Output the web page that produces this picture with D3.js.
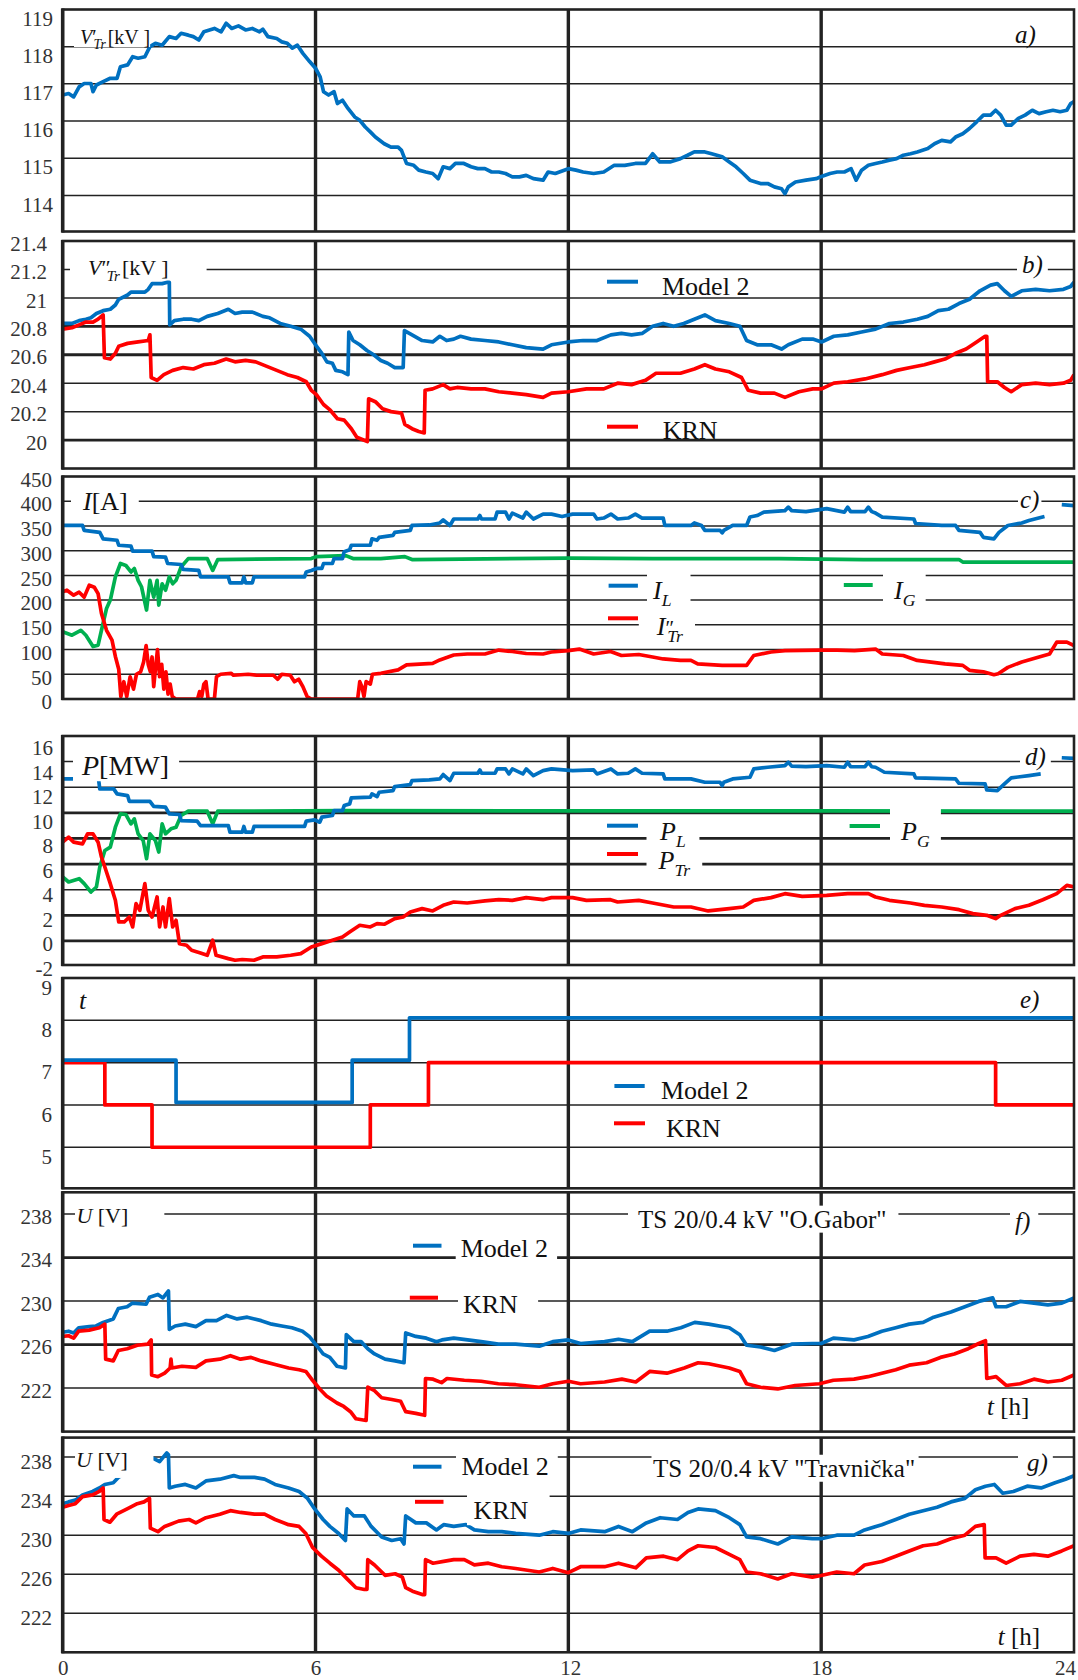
<!DOCTYPE html>
<html><head><meta charset="utf-8">
<script src="https://cdn.jsdelivr.net/npm/d3@7"></script>
<style>
body{margin:0;background:#fff}
svg{display:block}
text{font-family:"Liberation Serif","Times New Roman",serif;white-space:pre}
</style>
</head><body>
<svg id="chart" width="1078" height="1680"></svg>
<script>
// ---------------- DATA (hour, value) ----------------
const hourTicks = [0, 6, 12, 18, 24];
const ticksA = [114, 115, 116, 117, 118, 119];
const ticksB = [20, 20.2, 20.4, 20.6, 20.8, 21, 21.2, 21.4];
const ticksC = [0, 50, 100, 150, 200, 250, 300, 350, 400, 450];
const ticksD = [-2, 0, 2, 4, 6, 8, 10, 12, 14, 16];
const ticksE = [5, 6, 7, 8, 9];
const ticksF = [222, 226, 230, 234, 238];
const ticksG = [222, 226, 230, 234, 238];

// a) V'Tr [kV]
const vTrHV = [[0,116.70],[0.14,116.74],[0.26,116.65],[0.39,116.92],[0.51,117.01],[0.67,117.01],[0.72,116.79],[0.80,116.97],[0.96,117.06],[1.13,117.15],[1.29,117.15],[1.37,117.46],[1.54,117.51],[1.66,117.73],[1.79,117.69],[1.95,117.73],[2.07,118.0],[2.20,118.09],[2.36,118.04],[2.53,118.27],[2.69,118.22],[2.81,118.36],[2.98,118.31],[3.10,118.27],[3.23,118.18],[3.35,118.40],[3.60,118.49],[3.76,118.40],[3.88,118.63],[4.01,118.49],[4.17,118.56],[4.34,118.45],[4.50,118.49],[4.67,118.40],[4.75,118.47],[4.87,118.27],[5.08,118.22],[5.20,118.13],[5.33,118.09],[5.45,117.96],[5.57,118.04],[5.70,117.82],[5.86,117.60],[6.00,117.42],[6.11,117.19],[6.19,116.79],[6.31,116.70],[6.44,116.79],[6.52,116.47],[6.64,116.56],[6.77,116.34],[6.93,116.11],[7.05,116.02],[7.18,115.84],[7.30,115.71],[7.42,115.57],[7.63,115.39],[7.79,115.30],[7.96,115.30],[8.04,115.21],[8.16,114.86],[8.33,114.81],[8.45,114.68],[8.62,114.63],[8.78,114.59],[8.91,114.45],[9.03,114.77],[9.19,114.72],[9.32,114.86],[9.52,114.86],[9.69,114.77],[9.85,114.72],[10.02,114.72],[10.18,114.63],[10.35,114.63],[10.51,114.59],[10.67,114.50],[10.84,114.50],[11.0,114.54],[11.17,114.45],[11.40,114.41],[11.52,114.63],[11.69,114.59],[12.0,114.72],[12.18,114.68],[12.35,114.63],[12.60,114.59],[12.84,114.63],[13.09,114.81],[13.34,114.81],[13.59,114.86],[13.83,114.86],[14.0,115.12],[14.17,114.90],[14.41,114.90],[14.66,114.99],[14.83,115.08],[14.99,115.17],[15.24,115.17],[15.40,115.12],[15.65,115.04],[15.82,114.90],[15.98,114.77],[16.15,114.59],[16.31,114.41],[16.56,114.32],[16.73,114.32],[16.89,114.23],[17.06,114.18],[17.14,114.05],[17.22,114.23],[17.39,114.36],[17.64,114.41],[17.88,114.45],[17.99,114.50],[18.21,114.59],[18.38,114.63],[18.55,114.63],[18.71,114.72],[18.83,114.41],[18.96,114.68],[19.12,114.81],[19.29,114.86],[19.45,114.90],[19.62,114.95],[19.79,114.99],[19.95,115.08],[20.12,115.12],[20.28,115.17],[20.53,115.26],[20.69,115.39],[20.86,115.48],[21.07,115.44],[21.19,115.57],[21.36,115.66],[21.52,115.80],[21.69,115.98],[21.85,116.16],[22.02,116.16],[22.14,116.29],[22.26,116.16],[22.39,115.89],[22.51,115.89],[22.68,116.07],[22.84,116.16],[23.01,116.29],[23.17,116.20],[23.34,116.25],[23.50,116.29],[23.67,116.25],[23.83,116.29],[23.92,116.47],[24.0,116.52]];

// b) V''Tr [kV]
const vMvModel2 = [[0,20.82],[0.22,20.82],[0.39,20.84],[0.55,20.85],[0.67,20.86],[0.80,20.89],[0.96,20.91],[1.13,20.92],[1.25,20.95],[1.33,20.99],[1.54,21.02],[1.62,21.04],[1.95,21.04],[2.03,21.06],[2.12,21.10],[2.36,21.10],[2.49,21.11],[2.53,21.11],[2.54,20.81],[2.65,20.84],[2.86,20.85],[3.06,20.85],[3.23,20.84],[3.43,20.87],[3.68,20.89],[3.93,20.92],[4.09,20.89],[4.26,20.90],[4.50,20.90],[4.75,20.87],[4.91,20.86],[5.16,20.82],[5.41,20.80],[5.65,20.78],[5.86,20.73],[6.0,20.67],[6.15,20.61],[6.27,20.55],[6.40,20.54],[6.48,20.49],[6.64,20.48],[6.77,20.46],[6.79,20.76],[6.89,20.70],[7.05,20.67],[7.22,20.63],[7.38,20.60],[7.55,20.56],[7.71,20.54],[7.88,20.51],[8.08,20.51],[8.11,20.77],[8.29,20.74],[8.53,20.70],[8.78,20.69],[8.95,20.73],[9.11,20.70],[9.28,20.71],[9.44,20.73],[9.69,20.71],[10.02,20.70],[10.35,20.69],[10.67,20.67],[11.0,20.65],[11.40,20.64],[11.60,20.67],[12.0,20.69],[12.35,20.70],[12.68,20.70],[13.01,20.74],[13.26,20.75],[13.50,20.74],[13.75,20.75],[14.0,20.80],[14.25,20.82],[14.50,20.80],[14.74,20.82],[14.99,20.85],[15.24,20.88],[15.49,20.84],[15.82,20.82],[16.07,20.80],[16.23,20.70],[16.48,20.67],[16.81,20.67],[17.06,20.64],[17.22,20.67],[17.55,20.71],[17.80,20.71],[18.01,20.69],[18.30,20.73],[18.63,20.74],[18.96,20.76],[19.29,20.78],[19.62,20.82],[19.95,20.83],[20.28,20.85],[20.53,20.87],[20.78,20.91],[21.02,20.92],[21.27,20.96],[21.52,20.99],[21.77,21.05],[22.02,21.09],[22.18,21.10],[22.35,21.05],[22.51,21.01],[22.76,21.05],[23.09,21.06],[23.42,21.05],[23.75,21.06],[23.92,21.08],[24,21.11]];
const vMvKRN = [[0,20.78],[0.22,20.79],[0.39,20.81],[0.55,20.83],[0.72,20.83],[0.84,20.85],[0.96,20.88],[0.99,20.58],[1.13,20.57],[1.25,20.61],[1.33,20.66],[1.54,20.68],[1.79,20.69],[2.03,20.70],[2.07,20.74],[2.10,20.44],[2.24,20.42],[2.40,20.46],[2.61,20.49],[2.86,20.51],[3.10,20.50],[3.35,20.53],[3.60,20.54],[3.88,20.57],[4.09,20.55],[4.34,20.56],[4.58,20.55],[4.83,20.52],[5.08,20.49],[5.33,20.46],[5.57,20.44],[5.78,20.41],[5.90,20.35],[6.02,20.32],[6.19,20.25],[6.35,20.21],[6.52,20.15],[6.68,20.14],[6.85,20.08],[6.98,20.02],[7.14,20.0],[7.23,19.99],[7.26,20.29],[7.42,20.27],[7.59,20.22],[7.79,20.20],[8.04,20.19],[8.12,20.11],[8.29,20.08],[8.45,20.06],[8.58,20.05],[8.60,20.35],[8.78,20.36],[9.03,20.39],[9.19,20.36],[9.36,20.37],[9.69,20.36],[10.02,20.36],[10.35,20.34],[10.67,20.33],[11.0,20.32],[11.40,20.30],[11.60,20.33],[12.0,20.34],[12.43,20.36],[12.84,20.36],[13.17,20.40],[13.50,20.39],[13.83,20.42],[14.08,20.47],[14.33,20.47],[14.66,20.47],[14.99,20.50],[15.24,20.53],[15.49,20.50],[15.82,20.48],[16.11,20.44],[16.27,20.35],[16.56,20.33],[16.89,20.33],[17.14,20.30],[17.47,20.34],[17.80,20.36],[18.01,20.36],[18.30,20.40],[18.63,20.41],[19.04,20.43],[19.45,20.46],[19.79,20.49],[20.12,20.51],[20.45,20.53],[20.69,20.55],[20.94,20.57],[21.19,20.61],[21.44,20.64],[21.69,20.69],[21.89,20.73],[21.93,20.73],[21.95,20.41],[22.18,20.41],[22.35,20.37],[22.51,20.34],[22.76,20.39],[23.09,20.40],[23.42,20.39],[23.75,20.40],[23.92,20.42],[24,20.46]];

// c) I [A]
const iLoad = [[0,351],[0.47,351],[0.51,341],[0.88,337],[0.96,324],[1.29,321],[1.33,311],[1.62,309],[1.66,299],[2.12,299],[2.16,288],[2.44,287],[2.49,274],[2.81,272],[2.86,262],[3.23,260],[3.27,247],[3.93,247],[3.97,235],[4.26,235],[4.30,247],[4.34,235],[4.50,235],[4.54,247],[5.74,247],[5.78,257],[5.90,260],[6.02,264],[6.15,264],[6.19,274],[6.40,274],[6.44,284],[6.64,284],[6.68,298],[6.81,302],[6.85,311],[7.30,311],[7.34,324],[7.46,321],[7.51,327],[7.84,331],[7.88,337],[8.25,341],[8.29,351],[8.70,352],[8.95,356],[9.03,362],[9.19,351],[9.28,364],[9.85,364],[9.90,371],[9.94,364],[10.26,364],[10.31,378],[10.51,378],[10.59,364],[10.67,376],[10.92,366],[11.0,378],[11.17,364],[11.40,374],[11.60,374],[11.85,369],[12.1,374],[12.6,374],[12.68,364],[12.84,366],[13.01,374],[13.17,364],[13.42,366],[13.59,374],[13.75,366],[14.25,366],[14.29,351],[14.91,351],[14.99,356],[15.16,351],[15.24,341],[15.6,341],[15.65,336],[15.69,341],[15.9,351],[16.23,351],[16.31,368],[16.48,371],[16.64,378],[17.14,381],[17.22,388],[17.30,381],[17.64,379],[17.80,381],[18.13,385],[18.55,378],[18.63,388],[18.7,379],[19.04,379],[19.12,388],[19.2,379],[19.29,376],[19.45,368],[20.2,364],[20.24,355],[20.86,351],[21.19,351],[21.27,341],[21.77,337],[21.85,327],[22.1,324],[22.22,337],[22.43,351],[22.76,356],[22.93,361],[23.3,369],[23.5,null],[23.71,393],[24,391]];
const iTrafo = [[0,217],[0.1,220],[0.26,210],[0.39,216],[0.51,206],[0.63,230],[0.75,226],[0.84,213],[0.92,173],[1.04,139],[1.17,119],[1.25,86],[1.33,60],[1.38,5],[1.45,35],[1.52,5],[1.60,45],[1.68,20],[1.75,50],[1.85,55],[1.92,75],[1.98,108],[2.03,70],[2.08,55],[2.12,85],[2.16,25],[2.20,60],[2.25,100],[2.30,45],[2.35,70],[2.40,20],[2.45,55],[2.50,10],[2.55,30],[2.60,5],[2.68,0],[3.20,0],[3.25,15],[3.30,5],[3.35,30],[3.40,35],[3.45,0],[3.60,0],[3.65,45],[3.75,50],[4.0,52],[4.05,48],[4.40,50],[4.60,48],[5.0,48],[5.1,40],[5.2,50],[5.4,48],[5.5,35],[5.6,40],[5.7,25],[5.8,5],[5.9,0],[7.0,0],[7.05,35],[7.1,25],[7.15,5],[7.2,35],[7.3,30],[7.35,50],[7.55,52],[7.96,59],[8.16,69],[8.78,72],[8.95,79],[9.28,89],[9.6,91],[10.02,91],[10.35,99],[10.67,96],[11.0,92],[11.4,91],[11.6,95],[12.0,98],[12.26,101],[12.6,91],[13.0,96],[13.26,88],[13.67,90],[14.0,85],[14.25,81],[14.66,78],[14.91,78],[15.07,71],[15.65,68],[16.23,68],[16.4,88],[16.81,95],[17.14,98],[17.97,99],[18.38,99],[18.79,98],[19.29,101],[19.45,91],[19.95,88],[20.28,78],[20.94,71],[21.36,68],[21.52,58],[21.85,55],[22.1,49],[22.2,51],[22.43,64],[22.76,75],[23.17,85],[23.42,91],[23.59,115],[23.83,115],[24,108]];
const iGen = [[0,136],[0.22,129],[0.43,139],[0.55,129],[0.72,106],[0.84,109],[0.92,139],[1.04,183],[1.13,200],[1.25,247],[1.37,274],[1.50,270],[1.62,257],[1.70,264],[1.79,240],[1.87,227],[1.99,180],[2.07,240],[2.16,206],[2.24,240],[2.28,190],[2.36,233],[2.44,220],[2.53,247],[2.61,233],[2.69,240],[2.81,267],[2.98,284],[3.43,284],[3.56,260],[3.68,282],[5.90,284],[6.02,288],[6.72,290],[6.89,284],[7.55,284],[8.12,288],[8.29,282],[12,285],[14,284],[17,284],[19,282],[21.27,282],[21.36,277],[24,277]];

// d) P [MW]
const pLoad = [[0,12.65],[0.85,12.65],[0.88,11.87],[1.21,11.87],[1.29,11.48],[1.54,11.35],[1.58,10.9],[2.07,10.9],[2.16,10.5],[2.44,10.44],[2.53,9.92],[2.77,9.87],[2.81,9.4],[3.19,9.35],[3.27,9.01],[3.93,9.01],[3.97,8.49],[4.26,8.49],[4.30,8.94],[4.34,8.49],[4.50,8.49],[4.54,8.94],[5.74,8.94],[5.78,9.35],[5.98,9.45],[6.1,9.27],[6.15,9.66],[6.40,9.79],[6.44,10.18],[6.64,10.18],[6.68,10.57],[6.81,10.70],[6.85,11.17],[7.30,11.22],[7.34,11.48],[7.46,11.27],[7.51,11.61],[7.84,11.74],[7.88,12.05],[8.25,12.21],[8.29,12.52],[8.70,12.57],[8.95,12.65],[9.03,12.99],[9.19,12.52],[9.28,13.09],[9.85,13.09],[9.9,13.35],[9.94,13.09],[10.26,13.09],[10.31,13.43],[10.51,13.43],[10.59,13.04],[10.67,13.43],[10.92,13.04],[11.0,13.43],[11.17,12.91],[11.40,13.30],[11.6,13.43],[12.1,13.3],[12.6,13.35],[12.68,13.04],[13.01,13.43],[13.17,13.04],[13.42,13.09],[13.59,13.43],[13.75,13.09],[14.25,13.04],[14.29,12.65],[14.91,12.65],[15.24,12.39],[15.6,12.39],[15.65,12.13],[15.69,12.39],[15.9,12.65],[16.31,12.78],[16.4,13.43],[16.73,13.56],[17.14,13.69],[17.22,13.95],[17.3,13.65],[17.64,13.61],[18.13,13.69],[18.55,13.56],[18.63,13.95],[18.7,13.6],[19.04,13.61],[19.12,13.95],[19.2,13.6],[19.29,13.56],[19.5,13.17],[20.2,13.04],[20.24,12.73],[21.19,12.65],[21.27,12.31],[21.89,12.26],[21.93,11.79],[22.18,11.74],[22.35,12.26],[22.51,12.73],[22.93,12.91],[23.21,13.04],[23.5,null],[23.71,14.3],[24,14.25]];
const pTrafo = [[0,7.71],[0.14,8.10],[0.26,7.71],[0.47,7.58],[0.59,8.36],[0.72,8.36],[0.84,7.71],[0.92,6.55],[1.0,5.77],[1.13,4.47],[1.25,3.17],[1.33,1.48],[1.46,1.48],[1.58,1.87],[1.66,1.09],[1.74,2.91],[1.83,2.39],[1.95,4.47],[2.03,2.39],[2.12,1.87],[2.24,3.43],[2.30,1.09],[2.38,2.65],[2.44,1.09],[2.53,3.30],[2.61,1.09],[2.69,1.61],[2.77,-0.21],[2.94,-0.34],[3.06,-0.73],[3.27,-0.94],[3.43,-1.12],[3.56,0.05],[3.64,-1.12],[3.93,-1.38],[4.09,-1.51],[4.26,-1.45],[4.54,-1.51],[4.75,-1.25],[5.08,-1.25],[5.41,-1.12],[5.65,-0.99],[5.9,-0.47],[6.15,-0.21],[6.40,0.05],[6.64,0.31],[6.81,0.70],[7.05,1.22],[7.30,1.09],[7.46,1.35],[7.63,1.30],[7.88,1.74],[8.08,1.87],[8.25,2.26],[8.53,2.52],[8.78,2.34],[9.03,2.78],[9.28,3.04],[9.60,2.96],[10.02,3.12],[10.35,3.22],[10.67,3.17],[11.0,3.38],[11.40,3.22],[11.6,3.38],[12.1,3.38],[12.43,3.17],[13.0,3.22],[13.17,3.04],[13.67,3.17],[14.0,2.96],[14.5,2.65],[14.91,2.65],[15.32,2.34],[15.82,2.52],[16.15,2.65],[16.4,3.17],[16.81,3.38],[17.14,3.69],[17.55,3.48],[18.13,3.56],[18.63,3.69],[19.12,3.69],[19.29,3.43],[19.62,3.17],[20.12,2.96],[20.45,2.78],[20.86,2.65],[21.27,2.44],[21.6,2.13],[21.93,2.0],[22.14,1.74],[22.26,2.0],[22.6,2.52],[22.93,2.78],[23.26,3.22],[23.59,3.69],[23.83,4.34],[24,4.21]];
const pGen = [[0,4.99],[0.14,4.6],[0.39,4.86],[0.51,4.47],[0.67,3.82],[0.80,4.21],[0.88,5.77],[1.0,7.06],[1.13,7.32],[1.25,8.88],[1.37,9.92],[1.5,9.87],[1.62,9.14],[1.70,9.53],[1.79,8.36],[1.91,7.84],[1.99,6.42],[2.07,8.36],[2.20,7.84],[2.28,6.94],[2.36,9.14],[2.44,8.36],[2.57,8.75],[2.69,8.88],[2.81,9.79],[2.98,10.13],[3.43,10.13],[3.56,9.14],[3.68,10.13],[6.72,10.18],[12,10.15],[18,10.15],[24,10.13]];

// e) tap position t
const tapModel2 = [[0,7],[2.69,6],[6.87,7],[8.23,8],[24,8]];
const tapKRN = [[0,7],[1.0,6],[2.12,5],[7.3,6],[8.68,7],[22.14,6],[24,6]];

// f) U [V] TS "O.Gabor"
const uGaborModel2 = [[0,227.13],[0.14,227.23],[0.26,227.07],[0.38,227.55],[0.63,227.65],[0.79,227.71],[0.96,228.04],[1.2,228.36],[1.32,229.32],[1.53,229.48],[1.65,229.81],[1.98,229.71],[2.06,230.35],[2.26,230.61],[2.38,230.29],[2.51,230.93],[2.53,227.39],[2.67,227.71],[2.91,227.88],[3.16,227.65],[3.40,228.2],[3.65,228.2],[3.89,228.68],[4.14,228.36],[4.38,228.52],[4.71,228.2],[4.96,227.88],[5.2,227.71],[5.44,227.55],[5.69,227.23],[5.85,226.75],[6.02,225.94],[6.18,225.14],[6.34,224.82],[6.51,224.01],[6.71,223.85],[6.73,226.91],[6.91,226.27],[7.08,226.27],[7.24,225.62],[7.40,225.14],[7.65,224.66],[7.89,224.5],[8.1,224.33],[8.14,227.07],[8.38,226.75],[8.63,226.59],[8.87,226.27],[9.0,226.43],[9.28,226.59],[9.61,226.43],[9.93,226.27],[10.34,226.04],[10.75,226.04],[11.31,225.85],[11.63,226.27],[12.0,226.43],[12.29,226.1],[12.86,226.27],[13.19,226.49],[13.52,226.27],[13.93,227.23],[14.34,227.23],[14.67,227.55],[15.0,228.04],[15.33,227.88],[15.82,227.55],[16.07,226.91],[16.23,225.94],[16.56,225.78],[16.89,225.46],[17.3,226.04],[17.79,226.1],[18.0,226.1],[18.29,226.59],[18.78,226.43],[19.11,226.75],[19.44,227.23],[19.77,227.55],[20.09,227.88],[20.42,228.04],[20.67,228.52],[21.08,229.0],[21.41,229.48],[21.74,229.97],[22.07,230.29],[22.15,229.48],[22.39,229.48],[22.72,229.97],[23.05,229.81],[23.38,229.65],[23.71,229.81],[24.0,230.29]];
const uGaborKRN = [[0,226.75],[0.14,226.81],[0.26,226.59],[0.38,227.23],[0.63,227.33],[0.87,227.55],[1.0,227.88],[1.02,224.66],[1.2,224.5],[1.32,225.46],[1.53,225.62],[1.77,225.94],[2.02,226.04],[2.1,226.43],[2.11,223.21],[2.26,223.05],[2.42,223.37],[2.55,223.85],[2.57,224.66],[2.59,223.85],[2.83,224.01],[3.16,223.91],[3.40,224.5],[3.73,224.66],[3.98,224.98],[4.22,224.66],[4.47,224.82],[4.71,224.5],[5.04,224.17],[5.36,223.85],[5.61,223.69],[5.77,223.53],[5.93,222.72],[6.1,221.92],[6.26,221.27],[6.51,220.63],[6.67,220.31],[6.83,219.83],[6.96,219.18],[7.2,219.02],[7.24,222.08],[7.40,221.76],[7.57,221.11],[7.81,220.95],[8.02,220.79],[8.14,219.83],[8.38,219.67],[8.59,219.5],[8.61,222.88],[8.79,222.82],[8.99,222.5],[9.12,222.88],[9.53,222.72],[9.93,222.63],[10.34,222.4],[10.75,222.31],[11.31,222.08],[11.63,222.4],[12.0,222.63],[12.29,222.4],[12.86,222.56],[13.27,222.82],[13.6,222.56],[13.93,223.53],[14.34,223.37],[14.75,223.85],[15.08,224.33],[15.33,224.24],[15.82,223.85],[16.07,223.53],[16.23,222.4],[16.56,222.08],[16.97,221.92],[17.38,222.24],[17.96,222.4],[18.29,222.72],[18.78,222.82],[19.11,223.05],[19.44,223.37],[19.77,223.69],[20.09,224.11],[20.5,224.33],[20.83,224.82],[21.16,225.14],[21.49,225.62],[21.74,226.1],[21.9,226.36],[21.93,222.88],[22.15,223.05],[22.39,222.24],[22.72,222.4],[23.05,222.82],[23.38,222.56],[23.71,222.72],[24.0,223.21]];

// g) U [V] TS "Travnička"
const uTravModel2 = [[0,233.23],[0.14,233.41],[0.3,233.59],[0.47,234.13],[0.71,234.48],[0.87,234.84],[1.0,235.2],[1.2,235.38],[1.32,235.92],[2.14,237.89],[2.3,237.53],[2.47,238.43],[2.51,238.25],[2.53,234.84],[2.67,235.02],[2.91,235.2],[3.16,234.84],[3.40,235.56],[3.73,235.74],[4.06,236.1],[4.22,235.92],[4.55,235.92],[4.79,235.74],[5.04,235.2],[5.36,234.84],[5.61,234.48],[5.81,233.77],[5.98,232.69],[6.18,231.61],[6.34,230.9],[6.55,230.18],[6.71,229.46],[6.75,232.69],[6.91,231.97],[7.16,231.97],[7.32,230.9],[7.57,229.82],[7.81,229.46],[8.02,229.64],[8.1,229.1],[8.14,231.97],[8.38,231.26],[8.63,231.26],[8.87,230.54],[9.04,231.08],[9.28,230.9],[9.57,231.08],[9.77,230.54],[10.1,230.36],[10.42,230.36],[10.75,230.18],[11.31,230.0],[11.63,230.36],[12.0,230.18],[12.29,230.54],[12.86,230.36],[13.19,230.9],[13.52,230.36],[13.85,231.26],[14.18,231.79],[14.59,231.61],[14.84,232.33],[15.08,232.69],[15.49,232.51],[15.82,231.79],[16.07,231.08],[16.23,229.82],[16.56,229.64],[16.97,229.1],[17.3,229.82],[17.79,229.64],[18.0,229.64],[18.37,230.0],[18.78,230.0],[19.03,230.54],[19.44,231.08],[19.77,231.61],[20.09,232.15],[20.42,232.51],[20.75,232.87],[21.08,233.41],[21.41,233.77],[21.66,234.66],[21.9,235.02],[22.11,235.2],[22.31,234.3],[22.56,234.48],[22.89,235.02],[23.22,234.84],[23.55,235.38],[23.8,235.74],[24.0,236.1]];
const uTravKRN = [[0,232.87],[0.14,233.05],[0.3,233.23],[0.47,233.95],[0.71,234.13],[0.87,234.48],[0.96,234.84],[0.98,231.61],[1.12,231.33],[1.28,232.15],[1.53,232.69],[1.77,233.23],[1.93,233.41],[2.06,233.77],[2.08,230.72],[2.26,230.36],[2.42,230.9],[2.75,231.44],[3.0,231.61],[3.16,231.26],[3.40,231.79],[3.73,232.15],[3.98,232.51],[4.22,232.33],[4.55,232.15],[4.79,232.15],[5.04,231.61],[5.36,231.08],[5.61,230.9],[5.77,230.18],[5.93,228.74],[6.14,227.85],[6.34,227.13],[6.55,226.41],[6.75,225.52],[6.96,224.62],[7.16,224.44],[7.22,224.44],[7.24,227.49],[7.40,226.95],[7.65,225.89],[7.89,226.05],[8.06,225.7],[8.14,224.62],[8.3,224.26],[8.55,223.9],[8.59,223.9],[8.61,227.49],[8.79,227.13],[9.04,227.31],[9.28,227.49],[9.53,227.49],[9.77,226.95],[10.1,227.13],[10.42,226.77],[10.75,226.59],[11.31,226.23],[11.63,226.59],[12.0,226.16],[12.29,226.77],[12.86,226.77],[13.19,227.13],[13.6,226.66],[13.85,227.67],[14.26,227.85],[14.59,227.49],[14.84,228.39],[15.08,228.92],[15.49,228.74],[15.82,228.03],[16.07,227.49],[16.23,226.23],[16.56,226.05],[16.97,225.52],[17.3,226.05],[17.79,225.7],[18.0,225.87],[18.37,226.23],[18.78,226.05],[19.03,226.95],[19.44,227.31],[19.77,227.85],[20.09,228.39],[20.42,228.92],[20.75,229.1],[21.08,229.64],[21.41,230.0],[21.66,230.9],[21.87,231.08],[21.89,227.67],[22.15,227.67],[22.39,227.13],[22.72,227.85],[23.05,228.03],[23.38,227.85],[23.71,228.39],[24.0,228.92]];

// ---------------- LAYOUT / STYLE ----------------
const BLUE = '#0070c0', RED = '#ff0000', GREEN = '#00b050', INK = '#222';
const svg = d3.select('#chart');
const x = d3.scaleLinear().domain([0, 24]).range([62.7, 1074]);

const it = (t, o) => Object.assign({t, i: 1}, o || {});
const panels = [
  {top: 9.5, bottom: 231.5, domain: [113.03, 119], ticks: ticksA, lab: [9, 9], labRight: 53, thick: [],
   series: [[vTrHV, BLUE]],
   labels: [
     {x: 80, y: 37, s: 20, parts: [it('V'), {t: '′'}, it('Tr', {sub: 1, dx: -3}), {t: '[kV ]', dx: 2}], pad: [6, 0, 0, -5]},
     {x: 1015, y: 35, s: 25, parts: [it('a)')]}
   ], legend: []},
  {top: 241, bottom: 468.5, domain: [19.8, 21.4], ticks: ticksB, lab: [2.5, 2.5], labRight: 47, thick: [20.8, 20.6, 20],
   series: [[vMvModel2, BLUE], [vMvKRN, RED]],
   labels: [
     {x: 88, y: 268, s: 22, parts: [it('V'), {t: '″'}, it('Tr', {sub: 1, dx: -4}), {t: '[kV ]', dx: 2}], pad: [18, 38, 0, -10]},
     {x: 1022, y: 265, s: 25, parts: [it('b)')], pad: [5, 5, 0, 0]},
     {x: 662, y: 286.7, s: 26, parts: [{t: 'Model 2'}]},
     {x: 662.7, y: 430, s: 26, parts: [{t: 'KRN'}]}
   ], legend: [[607, 638, 281.7, BLUE], [607, 638, 426.7, RED]]},
  {top: 476.5, bottom: 699, domain: [0, 450], ticks: ticksC, lab: [3, 3], labRight: 52, thick: [],
   series: [[iGen, GREEN], [iLoad, BLUE], [iTrafo, RED]],
   labels: [
     {x: 83, y: 501.7, s: 26, parts: [it('I'), {t: '[A]'}], pad: [11, 11, 0, 0]},
     {x: 1020, y: 500, s: 25, parts: [it('c)')], pad: [2, 2, 0, 0]},
     {x: 653, y: 590, s: 26, parts: [it('I'), it('L', {sub: 1})], pad: [5, 19, 3, 0]},
     {x: 656.8, y: 626, s: 26, parts: [it('I'), {t: '″', sup: 1}, it('Tr', {sub: 1, dx: -7})], pad: [17, 12, -3, 0]},
     {x: 894, y: 590, s: 26, parts: [it('I'), it('G', {sub: 1})], pad: [10, 10, 3, 0]}
   ], legend: [[608.6, 637.9, 585.7, BLUE], [608, 638, 618.3, RED], [843.8, 872.7, 585, GREEN]]},
  {top: 736, bottom: 965, domain: [-1.88, 16], ticks: ticksD, lab: [2, 12], labRight: 53, thick: [10, 8, 6, 2, 0],
   series: [[pGen, GREEN], [pLoad, BLUE], [pTrafo, RED]],
   labels: [
     {x: 82, y: 766, s: 28, parts: [it('P'), {t: '[MW]'}], pad: [8, 10, 0, 0]},
     {x: 1025, y: 756.7, s: 25, parts: [it('d)')], pad: [5, 5, 0, 0]},
     {x: 660, y: 831.7, s: 26, parts: [it('P'), it('L', {sub: 1})], pad: [12.5, 13.7, 0, 0]},
     {x: 658.5, y: 860, s: 26, parts: [it('P'), it('Tr', {sub: 1})], pad: [11, 12, 0, 0]},
     {x: 901, y: 831.7, s: 26, parts: [it('P'), it('G', {sub: 1})], pad: [10, 11, 9, 0]}
   ], legend: [[607, 638, 825.7, BLUE], [607, 638, 854, RED], [849.6, 880, 826, GREEN]]},
  {top: 978, bottom: 1188.3, domain: [4.03, 9], ticks: ticksE, lab: [9, 10], labRight: 52, thick: [],
   series: [[tapKRN, RED, 'step'], [tapModel2, BLUE, 'step', -2.5]],
   labels: [
     {x: 79, y: 1000, s: 26, parts: [it('t')]},
     {x: 1020, y: 1000, s: 25, parts: [it('e)')]},
     {x: 661, y: 1090, s: 26, parts: [{t: 'Model 2'}]},
     {x: 666, y: 1128, s: 26, parts: [{t: 'KRN'}]}
   ], legend: [[614.4, 644.7, 1086, BLUE], [614, 645, 1123.3, RED]]},
  {top: 1192.3, bottom: 1431.6, domain: [218, 240], ticks: ticksF, lab: [2.5, 2.5], labRight: 52, thick: [234, 226],
   series: [[uGaborModel2, BLUE], [uGaborKRN, RED]],
   labels: [
     {x: 76.4, y: 1216, s: 22, parts: [it('U'), {t: ' [V]'}], pad: [1.4, 36, 0, 0]},
     {x: 638, y: 1219.4, s: 25, parts: [{t: 'TS 20/0.4 kV "O.Gabor"'}], pad: [10, 12, 0, 0]},
     {x: 1015, y: 1222, s: 25, parts: [it('f)')], pad: [5, 8, 0, 0]},
     {x: 987, y: 1407, s: 25, parts: [it('t'), {t: ' [h]'}]},
     {x: 460.7, y: 1248.6, s: 26, parts: [{t: 'Model 2'}], pad: [5, 9, 0, 0]},
     {x: 463, y: 1304.3, s: 26, parts: [{t: 'KRN'}], pad: [5, 20, 0, 0]}
   ], legend: [[413, 441.5, 1245.7, BLUE], [409.8, 438, 1297.7, RED]]},
  {top: 1437.6, bottom: 1652.3, domain: [218, 240], ticks: ticksG, lab: [5, 5], labRight: 52, thick: [],
   series: [[uTravModel2, BLUE], [uTravKRN, RED]],
   labels: [
     {x: 76, y: 1459.7, s: 22, parts: [it('U'), {t: ' [V]'}], pad: [1, 25.5, 0, 6]},
     {x: 653, y: 1468.5, s: 25, parts: [{t: 'TS 20/0.4 kV "Travnička"'}], pad: [1.5, 3.5, 0, 0]},
     {x: 1027, y: 1463, s: 25, parts: [it('g)')], pad: [9, 5, 0, 0]},
     {x: 997.7, y: 1636.8, s: 25, parts: [it('t'), {t: ' [h]'}]},
     {x: 461.4, y: 1466, s: 26, parts: [{t: 'Model 2'}], pad: [5.4, 9, 0, 0]},
     {x: 473.5, y: 1510.6, s: 26, parts: [{t: 'KRN'}], pad: [6.5, 21, 2, 0]}
   ], legend: [[413, 441.5, 1466.7, BLUE], [415, 443.5, 1501.8, RED]]}
];

function addLabel(layer, boxLayer, L) {
  const s = L.s;
  const t = layer.append('text').attr('x', L.x).attr('y', L.y + 0.33 * s)
    .attr('font-size', s).attr('fill', '#111');
  let cur = 0;
  L.parts.forEach(p => {
    const sp = t.append('tspan').text(p.t);
    if (p.i) sp.attr('font-style', 'italic');
    let fs = s, target = 0;
    if (p.sub) { fs = s * 0.68; target = s * 0.27; }
    if (p.sup) { fs = s * 0.8; target = 0; }
    sp.attr('font-size', fs).attr('dy', target - cur);
    cur = target;
    if (p.dx) sp.attr('dx', p.dx);
  });
  if (L.pad) {
    const b = t.node().getBBox();
    const [pl, pr, pt, pb] = L.pad;
    boxLayer.append('rect').attr('x', b.x - pl).attr('y', b.y - pt)
      .attr('width', b.width + pl + pr).attr('height', b.height + pt + pb).attr('fill', '#fff');
  }
}

panels.forEach((P, idx) => {
  const y = d3.scaleLinear().domain(P.domain).range([P.bottom, P.top]);
  const g = svg.append('g');
  const clipId = 'clip' + idx;
  g.append('clipPath').attr('id', clipId).append('rect')
    .attr('x', x(0)).attr('y', P.top).attr('width', x(24) - x(0)).attr('height', P.bottom - P.top);

  // horizontal gridlines
  g.append('g').selectAll('line')
    .data(P.ticks.filter(v => y(v) > P.top + 3 && y(v) < P.bottom - 3))
    .join('line')
    .attr('x1', x(0)).attr('x2', x(24))
    .attr('y1', d => y(d)).attr('y2', d => y(d))
    .attr('stroke', INK).attr('stroke-width', d => P.thick.includes(d) ? 2.8 : 1.5);

  // vertical hour lines
  g.append('g').selectAll('line').data([6, 12, 18]).join('line')
    .attr('x1', d => x(d)).attr('x2', d => x(d))
    .attr('y1', P.top).attr('y2', P.bottom)
    .attr('stroke', INK).attr('stroke-width', 3.4);

  // series
  const lg = g.append('g').attr('clip-path', `url(#${clipId})`);
  P.series.forEach(([data, color, kind, shift]) => {
    const line = d3.line().defined(d => d[1] != null).x(d => x(d[0])).y(d => y(d[1]))
      .curve(kind === 'step' ? d3.curveStepAfter : d3.curveLinear);
    lg.append('path').datum(data).attr('d', line)
      .attr('fill', 'none').attr('stroke', color).attr('stroke-width', 3.7)
      .attr('stroke-linejoin', 'round')
      .attr('transform', shift ? `translate(0,${shift})` : null);
  });

  // frame
  g.append('rect').attr('x', x(0)).attr('y', P.top).attr('width', x(24) - x(0)).attr('height', P.bottom - P.top)
    .attr('fill', 'none').attr('stroke', INK).attr('stroke-width', 2.6);
  g.append('line').attr('x1', x(0)).attr('x2', x(0)).attr('y1', P.top - 1).attr('y2', P.bottom + 1)
    .attr('stroke', INK).attr('stroke-width', 3.6);

  // y tick labels via axis on label-position scale
  const labScale = d3.scaleLinear().domain([P.domain[0], P.domain[1]])
    .range([P.bottom + P.lab[0], P.top + P.lab[1]]);
  const ax = g.append('g').attr('transform', `translate(${P.labRight},0)`)
    .call(d3.axisLeft(labScale).tickValues(P.ticks).tickSize(0).tickPadding(0).tickFormat(d => String(d)));
  ax.select('.domain').remove();
  ax.selectAll('text').attr('font-size', 21).attr('fill', '#333')
    .attr('font-family', '"Liberation Serif","Times New Roman",serif');

  // label boxes + text
  const boxLayer = g.append('g');
  const textLayer = g.append('g');
  P.legend.forEach(([x1, x2, yy, c]) => {
    textLayer.append('line').attr('x1', x1).attr('x2', x2).attr('y1', yy).attr('y2', yy)
      .attr('stroke', c).attr('stroke-width', 4);
  });
  P.labels.forEach(L => addLabel(textLayer, boxLayer, L));
});

// x axis labels
const xa = svg.append('g').attr('transform', 'translate(0,1668)')
  .call(d3.axisBottom(x).tickValues(hourTicks).tickSize(0).tickPadding(0).tickFormat(d => String(d)));
xa.select('.domain').remove();
xa.selectAll('text').attr('font-size', 21).attr('fill', '#333').attr('dy', '0.35em').attr('y', 0)
  .attr('font-family', '"Liberation Serif","Times New Roman",serif')
  .attr('x', d => d === 24 ? -9 : (d === 12 ? 2 : 0));
</script>
</body></html>
